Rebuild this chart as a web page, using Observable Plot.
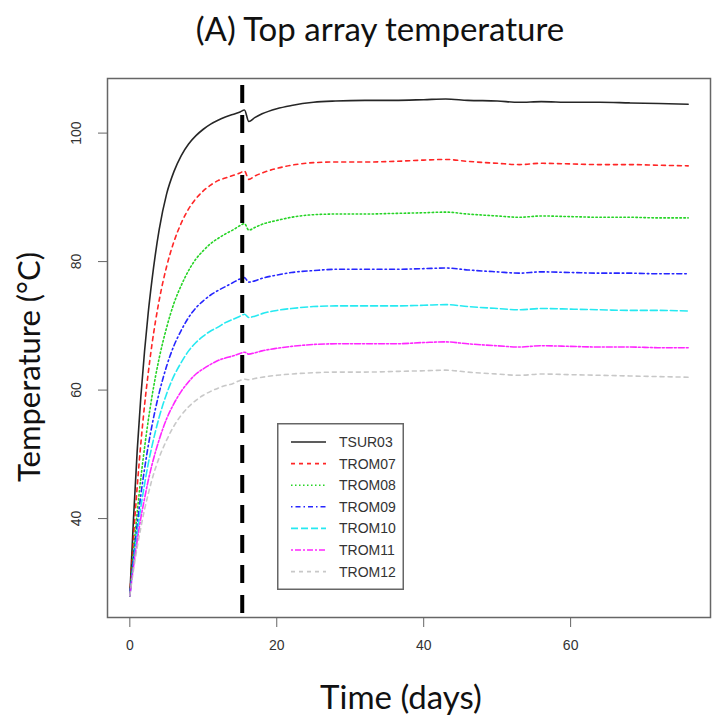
<!DOCTYPE html>
<html><head><meta charset="utf-8">
<script src="https://cdn.jsdelivr.net/npm/d3@7"></script>
<script src="https://cdn.jsdelivr.net/npm/@observablehq/plot@0.6"></script>
<style>
body{margin:0;background:#fff;}
#wrap{position:relative;width:717px;height:719px;overflow:hidden;background:#fff;}
#title{position:absolute;left:43px;top:0;width:674px;height:56px;line-height:56px;text-align:center;font-family:Lato,"Open Sans",sans-serif;font-size:33px;color:#111;}
#chart{position:absolute;left:0;top:60px;}
#legend{position:absolute;left:277px;top:423px;}
</style></head><body>
<div id="wrap">
<div id="title">(A) Top array temperature</div>
<div id="chart"></div>
<div id="legend"></div>
</div>
<script>
const days = [0,0.5,1,1.5,2,2.5,3,4,5,6,7,8,9,10,11,12,13,14,15,15.6,16.2,17,18,20,22,25,28,32,36,40,43,46,50,53,56,60,64,68,72,76];
const seriesNames = ["TSUR03","TROM07","TROM08","TROM09","TROM10","TROM11","TROM12"];
const TSUR03 = [28,40,50.5,59,66,72,77,85,90.5,94,96.5,98.3,99.6,100.6,101.4,102,102.5,102.9,103.3,103.6,101.8,102.4,103,103.8,104.3,104.8,105,105.1,105.1,105.2,105.3,105.1,105,104.8,104.9,104.8,104.8,104.7,104.6,104.5];
const TROM07 = [28,37.1,44.9,51.7,57.6,62.6,67.0,74.0,79.2,83.1,86.0,88.2,89.8,91.0,91.9,92.6,93.0,93.4,93.8,94.1,92.8,93.3,93.8,94.5,95.0,95.4,95.5,95.5,95.6,95.8,95.9,95.6,95.3,95.1,95.3,95.2,95.1,95.1,95.0,94.9];
const TROM08 = [28,34.9,40.9,46.3,51.0,55.2,58.9,65.0,69.7,73.5,76.3,78.6,80.4,81.7,82.8,83.6,84.3,84.9,85.6,85.9,84.9,85.3,85.8,86.4,86.9,87.3,87.4,87.4,87.5,87.6,87.7,87.4,87.1,86.9,87.1,87.0,86.9,86.9,86.8,86.8];
const TROM09 = [28,33.9,39.0,43.7,47.7,51.3,54.4,59.6,63.7,66.9,69.3,71.3,72.8,73.9,74.8,75.5,76.1,76.7,77.3,77.5,76.8,77.0,77.4,77.9,78.3,78.6,78.8,78.8,78.8,78.9,79.0,78.7,78.4,78.2,78.4,78.3,78.2,78.2,78.1,78.1];
const TROM10 = [28,33.2,37.7,41.8,45.3,48.5,51.2,55.8,59.4,62.2,64.3,66.1,67.4,68.4,69.2,69.8,70.5,71.0,71.5,71.8,71.3,71.5,71.9,72.4,72.7,73.0,73.1,73.1,73.1,73.2,73.3,73.0,72.7,72.5,72.7,72.6,72.5,72.4,72.4,72.3];
const TROM11 = [28,32.5,36.5,40.1,43.1,45.9,48.3,52.3,55.5,57.9,59.8,61.3,62.5,63.3,64.0,64.6,65.0,65.3,65.7,65.9,65.6,65.8,66.1,66.5,66.8,67.1,67.2,67.2,67.2,67.4,67.5,67.2,66.9,66.7,66.9,66.8,66.7,66.7,66.6,66.6];
const TROM12 = [28,32.0,35.5,38.6,41.4,43.8,46.0,49.5,52.2,54.4,56.1,57.4,58.4,59.2,59.8,60.3,60.7,61.0,61.5,61.7,61.6,61.8,62.0,62.3,62.5,62.7,62.8,62.8,62.9,63.0,63.1,62.8,62.5,62.3,62.5,62.4,62.3,62.2,62.1,62.0];
const xTicks = [0,20,40,60];
const yTicks = [40,60,80,100];
const markerDay = 15.3;
const xLabel = "Time (days)";
const yLabel = "Temperature (°C)";

const values = [TSUR03,TROM07,TROM08,TROM09,TROM10,TROM11,TROM12];
const colors = ["#000000","#ff0000","#00cd00","#0000ff","#00e5ee","#ff00ff","#bebebe"];
const dashes = [null,"4,4","1.5,2.5","1.5,3,5,3","7,3","2,2,6,2","4,4"];

const rows = [];
seriesNames.forEach((name,i) => values[i].forEach((v,j) => rows.push({name, t: days[j], v})));

const plot = Plot.plot({
  width: 717, height: 659,
  marginTop: 18, marginBottom: 102, marginLeft: 107, marginRight: 7,
  x: {domain: [-3.04, 79.04]},
  y: {domain: [24.6, 108.5]},
  style: {fontFamily: "'Liberation Sans', Arial, sans-serif", fontSize: "14px", color: "#333", background: "#fff"},
  marks: [
    ...seriesNames.map((name,i) => Plot.line(rows.filter(d => d.name === name), {
      x: "t", y: "v", stroke: colors[i], strokeWidth: 1.6, strokeOpacity: 0.85,
      strokeDasharray: dashes[i], curve: "monotone-x"
    })),
    Plot.ruleX([markerDay], {stroke: "#000", strokeWidth: 4, strokeDasharray: "18,12", strokeDashoffset: 23}),
    Plot.frame({stroke: "#666", strokeWidth: 1.5}),
    Plot.axisX({ticks: xTicks, tickSize: 10, tickPadding: 13, label: null, stroke: "#666"}),
    Plot.axisY({ticks: yTicks, tickSize: 9, tickFormat: () => "", label: null, stroke: "#666"}),
    Plot.text(yTicks, {y: d => d, text: d => String(d), frameAnchor: "left", textAnchor: "middle", lineAnchor: "middle", dx: -31, rotate: -90, fill: "#333"}),
    Plot.text([yLabel], {text: d => d, frameAnchor: "left", textAnchor: "middle", lineAnchor: "middle", dx: -77, dy: 19, rotate: -90, fontSize: 31, fontFamily: "Lato, 'Open Sans', sans-serif", fill: "#111"}),
    Plot.text([xLabel], {text: d => d, frameAnchor: "bottom", dy: 91, dx: -8, fontSize: 33, fontFamily: "Lato, 'Open Sans', sans-serif", fill: "#111"})
  ]
});
document.getElementById("chart").appendChild(plot);

// legend
const lw = 127, lh = 167;
const lsvg = d3.select("#legend").append("svg").attr("width", lw).attr("height", lh)
  .style("font-family", "'Liberation Sans', Arial, sans-serif").style("font-size", "14px");
lsvg.append("rect").attr("x", 0.75).attr("y", 0.75).attr("width", lw - 1.5).attr("height", lh - 1.5)
  .attr("fill", "#fff").attr("stroke", "#666").attr("stroke-width", 1.5);
seriesNames.forEach((name, i) => {
  const y = 19 + i * 21.6;
  lsvg.append("line").attr("x1", 14).attr("x2", 49).attr("y1", y).attr("y2", y)
    .attr("stroke", colors[i]).attr("stroke-width", 1.6).attr("stroke-opacity", 0.85)
    .attr("stroke-dasharray", dashes[i]);
  lsvg.append("text").attr("x", 62).attr("y", y).attr("dy", "0.35em").attr("fill", "#333").text(name);
});
</script>
</body></html>
